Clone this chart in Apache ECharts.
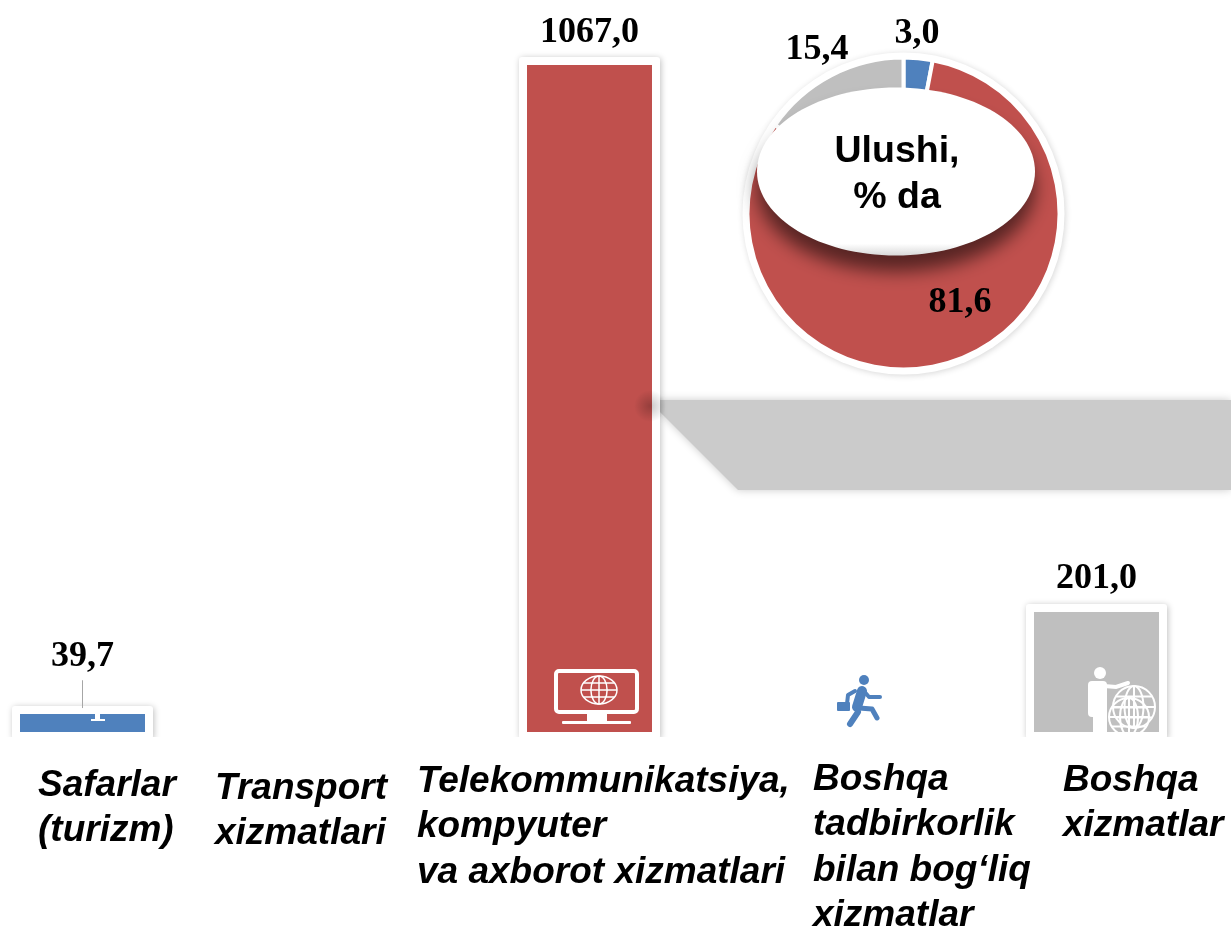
<html>
  <head>
    <meta charset="utf-8" />
    <title>Ulushi</title>
    <script src="https://cdn.jsdelivr.net/npm/echarts@6/dist/echarts.min.js"></script>
    <style>
      html, body { margin: 0; padding: 0; background: #fff; }
      #chart { width: 1231px; height: 926px; }
    </style>
  </head>

  <body>
    <div id="chart"></div>

    <script>
      // data
      const categories = [
        'Safarlar\n(turizm)',
        'Transport\nxizmatlari',
        'Telekommunikatsiya,\nkompyuter\nva axborot xizmatlari',
        'Boshqa\ntadbirkorlik\nbilan bog‘liq\nxizmatlar',
        'Boshqa\nxizmatlar'
      ]
      const barValues = [39.7, null, 1067.0, null, 201.0]
      const leaderRange = [49, 93]
      const shareNames = ['Safarlar', 'Telekommunikatsiya', 'Boshqa']
      const shareValues = [3.0, 81.6, 15.4]
      const centerLabel = 'Ulushi,\n% da'

      const BLUE = '#4f81bd'
      const RED = '#c0504d'
      const GRAY = '#bfbfbf'
      const barColors = [BLUE, BLUE, RED, BLUE, GRAY]
      const pieColors = [BLUE, RED, GRAY]
      const barLabelGap = [39, 0, 14, 0, 15]
      const catLabelPos = [[38, 763], [215, 766], [417, 759], [813, 757], [1063, 758]]
      const pieLabelPos = [[917, 34], [960, 303], [817, 50]]

      const comma = v => v.toFixed(1).replace('.', ',')
      const serif = { fontFamily: 'Liberation Serif', fontWeight: 'bold', fontSize: 36, color: '#000' }
      const white = { fill: '#fff' }
      const wire = w => ({ stroke: '#fff', fill: 'none', lineWidth: w })

      // globe icon made of ellipses and lines
      function globe(cx, cy, rx, ry, w) {
        const ln = (x1, y1, x2, y2) => ({ type: 'line', z: 70, shape: { x1, y1, x2, y2 }, style: wire(w) })
        const el = (a, b) => ({ type: 'ellipse', z: 70, shape: { cx, cy, rx: a, ry: b }, style: wire(w) })
        return [
          el(rx, ry), el(rx * 0.45, ry),
          ln(cx - rx, cy, cx + rx, cy),
          ln(cx, cy - ry, cx, cy + ry),
          ln(cx - rx * 0.85, cy - ry * 0.5, cx + rx * 0.85, cy - ry * 0.5),
          ln(cx - rx * 0.85, cy + ry * 0.5, cx + rx * 0.85, cy + ry * 0.5)
        ]
      }
      const rect = (x, y, width, height, style, r) => ({ type: 'rect', z: 70, shape: { x, y, width, height, r: r || 0 }, style })
      const limb = (points, w) => ({
        type: 'polyline', z: 70, shape: { points },
        style: { stroke: BLUE, fill: 'none', lineWidth: w, lineCap: 'round', lineJoin: 'round' }
      })

      const monitorIcon = [
        rect(556, 671, 81, 41, wire(4), 3),
        rect(587, 713, 20, 9, white),
        rect(562, 721, 69, 3, white, 1)
      ].concat(globe(599, 690, 18, 14, 1.5))

      const blueStandIcon = [rect(95, 711, 5, 8, white), rect(91, 719, 14, 2, white)]

      const runnerIcon = [
        { type: 'circle', z: 70, shape: { cx: 864, cy: 680, r: 5 }, style: { fill: BLUE } },
        limb([[862, 691], [857, 707]], 10),
        limb([[863, 690], [869, 697], [880, 697]], 4),
        limb([[855, 691], [848, 695], [847, 704]], 4),
        rect(837, 702, 13, 9, { fill: BLUE }, 1),
        limb([[859, 708], [872, 709], [877, 718]], 5),
        limb([[858, 712], [850, 724]], 6)
      ]

      const personIcon = [
        { type: 'circle', z: 70, shape: { cx: 1100, cy: 673, r: 6 }, style: white },
        rect(1088, 681, 19, 36, white, 4),
        rect(1093, 700, 14, 34, white),
        { type: 'polyline', z: 70, shape: { points: [[1104, 686], [1116, 687], [1128, 683]] },
          style: { stroke: '#fff', fill: 'none', lineWidth: 4, lineCap: 'round' } }
      ].concat(globe(1134, 707, 21, 21, 2)).concat(globe(1129, 717, 20, 19, 2))

      const catTexts = categories.map((name, i) => ({
        type: 'text', z: 80, x: catLabelPos[i][0], y: catLabelPos[i][1],
        style: {
          text: name, fill: '#000', lineHeight: 45.5,
          font: 'italic bold 37px "Liberation Sans"'
        }
      }))

      // white card with a soft shadow behind each bar
      function renderCard(params, api) {
        const v = api.value(1)
        if (isNaN(v)) return
        const top = api.coord([api.value(0), v])
        const base = api.coord([api.value(0), 0])
        return {
          type: 'rect',
          shape: { x: top[0] - 70.5, y: top[1] - 8, width: 141, height: base[1] - top[1] + 8, r: 3 },
          style: { fill: '#fff', shadowBlur: 6, shadowColor: 'rgba(0,0,0,0.25)', shadowOffsetX: 1, shadowOffsetY: 1 }
        }
      }

      // white foot of the card, laid over the bottom of the bar
      function renderFoot(params, api) {
        if (isNaN(api.value(1))) return
        const base = api.coord([api.value(0), 0])
        return {
          type: 'rect',
          shape: { x: base[0] - 63, y: base[1] - 7, width: 126, height: 7 },
          style: white
        }
      }

      const chart = echarts.init(document.getElementById('chart'), null, { renderer: 'canvas' })

      chart.setOption({
        animation: false,
        grid: { left: -44.25, top: 65, width: 1267.5, height: 674, outerBoundsMode: 'none' },
        xAxis: {
          type: 'category', data: categories,
          axisLine: { show: false }, axisTick: { show: false }, axisLabel: { show: false }
        },
        yAxis: { type: 'value', min: 0, max: 1067, show: false, splitLine: { show: false } },
        series: [
          {
            type: 'custom', z: 2, clip: false, silent: true,
            renderItem: renderCard,
            encode: { x: 0, y: 1 },
            data: barValues.map((v, i) => [i, v])
          },
          {
            type: 'bar', z: 3, clip: false, barWidth: 125,
            data: barValues.map((v, i) => ({
              value: v,
              itemStyle: { color: barColors[i] },
              label: { distance: barLabelGap[i] }
            })),
            label: { show: true, position: 'top', formatter: p => comma(p.value), ...serif },
            markLine: {
              silent: true, symbol: 'none', label: { show: false },
              lineStyle: { color: '#a6a6a6', width: 1, type: 'solid' },
              data: [[{ coord: [0, leaderRange[0]] }, { coord: [0, leaderRange[1]] }]]
            }
          },
          {
            type: 'custom', z: 4, clip: false, silent: true,
            renderItem: renderFoot,
            encode: { x: 0, y: 1 },
            data: barValues.map((v, i) => [i, v])
          },
          // white disc with a soft edge behind the ring
          {
            type: 'pie', z: 5, silent: true, center: [903.5, 213.5], radius: [0, 161],
            data: [{ value: 1, name: '' }],
            itemStyle: { color: '#fff', shadowBlur: 6, shadowColor: 'rgba(0,0,0,0.16)', shadowOffsetX: 1, shadowOffsetY: 1 },
            label: { show: false }, labelLine: { show: false }
          },
          {
            type: 'pie', z: 6, silent: true, center: [903.5, 213.5], radius: [0, 156],
            startAngle: 90, clockwise: true,
            data: shareNames.map((n, i) => ({ name: n, value: shareValues[i], itemStyle: { color: pieColors[i] } })),
            itemStyle: { borderColor: '#fff', borderWidth: 4 },
            label: { show: true, formatter: p => comma(p.value), ...serif },
            labelLine: { show: false },
            labelLayout: p => ({
              x: pieLabelPos[p.dataIndex][0], y: pieLabelPos[p.dataIndex][1],
              align: 'center', verticalAlign: 'middle'
            })
          }
        ],
        graphic: {
          elements: [
            // grey wedge running off to the right
            {
              type: 'polygon', z: 1,
              shape: { points: [[650, 400], [1231, 400], [1231, 490], [738, 490], [660, 412]] },
              style: { fill: '#cbcbcb', shadowBlur: 8, shadowColor: '#cbcbcb' }
            },
            {
              type: 'circle', z: 40,
              shape: { cx: 650, cy: 406, r: 16 },
              style: {
                fill: new echarts.graphic.RadialGradient(0.5, 0.5, 0.5, [
                  { offset: 0, color: 'rgba(0,0,0,0.22)' },
                  { offset: 1, color: 'rgba(0,0,0,0)' }
                ])
              }
            },
            // everything below the baseline is cut off
            { type: 'rect', z: 50, shape: { x: 0, y: 737, width: 1231, height: 189 }, style: white },
            // centre ellipse of the ring
            {
              type: 'ellipse', z: 60,
              shape: { cx: 896, cy: 171.5, rx: 139, ry: 84 },
              style: {
                fill: new echarts.graphic.LinearGradient(0, 0, 0, 1, [
                  { offset: 0, color: '#fff' },
                  { offset: 0.93, color: '#fff' },
                  { offset: 1, color: '#d9d9d9' }
                ]),
                shadowBlur: 18, shadowOffsetY: 16, shadowColor: 'rgba(0,0,0,0.55)'
              }
            },
            {
              type: 'text', z: 61, x: 897, y: 175,
              style: {
                text: centerLabel, fill: '#000', align: 'center', verticalAlign: 'middle', lineHeight: 46,
                font: 'bold 37.5px "Liberation Sans"'
              }
            },
            ...monitorIcon, ...blueStandIcon, ...runnerIcon, ...personIcon, ...catTexts
          ]
        }
      })
    </script>
  </body>
</html>
